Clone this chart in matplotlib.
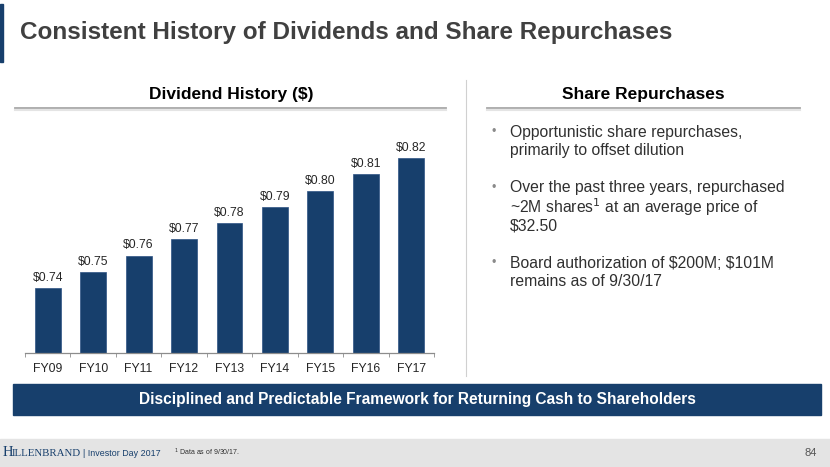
import numpy as np
import matplotlib
matplotlib.use("Agg")
import matplotlib.pyplot as plt
from matplotlib.patches import Rectangle
from matplotlib.lines import Line2D

plt.rcParams['font.family'] = ['Liberation Sans', 'DejaVu Sans']

# Data
years = ['FY09', 'FY10', 'FY11', 'FY12', 'FY13', 'FY14', 'FY15', 'FY16', 'FY17']
dividends = [0.74, 0.75, 0.76, 0.77, 0.78, 0.79, 0.80, 0.81, 0.82]

bullets = [
    ["Opportunistic share repurchases,", "primarily to offset dilution"],
    ["Over the past three years, repurchased", "~2M shares$^1$ at an average price of", "$32.50"],
    ["Board authorization of \\$200M; \\$101M", "remains as of 9/30/17"],
]

NAVY = '#173f6c'
DARK = '#404040'
W, H = 830, 467

fig = plt.figure(figsize=(W / 100, H / 100), dpi=100)


def px(x, y):
    return x / W, 1 - y / H


def ftext(x, y, s, **kw):
    fig.text(*px(x, y), s, **kw)


# left accent bar and title
fig.patches.append(Rectangle(px(0, 62), 3 / W, 58 / H, transform=fig.transFigure,
                             color=NAVY, zorder=2))
ftext(20, 32, "Consistent History of Dividends and Share Repurchases", fontsize=17.45,
      fontweight='bold', color=DARK, va='center', ha='left')

# section headers
ftext(231, 95, "Dividend History ($)", fontsize=12.5, fontweight='bold', color='black',
      ha='center', va='center')
ftext(643, 95, "Share Repurchases", fontsize=12.5, fontweight='bold', color='black',
      ha='center', va='center')
for x0, x1 in [(15, 446), (487, 800)]:
    fig.lines.append(Line2D([x0 / W, x1 / W], [1 - 108 / H] * 2, transform=fig.transFigure,
                            color='#a8a8a8', lw=1.3))
    fig.lines.append(Line2D([x0 / W, x1 / W], [1 - 110 / H] * 2, transform=fig.transFigure,
                            color='#e4e4e4', lw=1.5))

# vertical separator
fig.lines.append(Line2D([466 / W] * 2, [1 - 80 / H, 1 - 376 / H], transform=fig.transFigure,
                        color='#d0d0d0', lw=0.8))

# bar chart
ax = fig.add_axes([25 / W, 114 / H, 409 / W, 211 / H])
x = np.arange(len(years))
ax.bar(x, dividends, width=0.57, color=NAVY, edgecolor='#2d5284', linewidth=0.5)
ax.set_xlim(-0.5, len(years) - 0.5)
ax.set_ylim(0.70, 0.83)
for s in ['top', 'right', 'left']:
    ax.spines[s].set_visible(False)
ax.spines['bottom'].set_color('#8c8c8c')
ax.spines['bottom'].set_linewidth(0.9)
ax.set_yticks([])
ax.set_xticks(x)
ax.set_xticklabels(years, fontsize=8.8, color='#262626')
ax.tick_params(axis='x', which='major', length=0, pad=7)
ax.set_xticks(np.arange(-0.5, len(years)), minor=True)
ax.tick_params(axis='x', which='minor', length=3, color='#8c8c8c', direction='out')
for xi, v in zip(x, dividends):
    ax.annotate(f"${v:.2f}", (xi, v), xytext=(0, 3), textcoords='offset points',
                ha='center', va='bottom', fontsize=8.7, color='#262626')

# bullets
y = 132
for lines in bullets:
    ftext(494, y, "•", fontsize=9, color='#8a8a8a', ha='center', va='center')
    for ln in lines:
        ftext(510, y, ln, fontsize=11.3, color='#303030', ha='left', va='center')
        y += 19
    y += 18

# banner
fig.patches.append(Rectangle(px(13, 415), 808 / W, 31 / H, transform=fig.transFigure,
                             color=NAVY, zorder=1))
ftext(417, 399.5, "Disciplined and Predictable Framework for Returning Cash to Shareholders",
      fontsize=11.2, fontweight='bold', color='white', ha='center', va='center', zorder=3)

# footer
fig.patches.append(Rectangle(px(0, 467), 1, 28 / H, transform=fig.transFigure,
                             color='#e4e4e4', zorder=0))
ftext(3, 456, "H", fontsize=10.5, color=NAVY, family='Liberation Serif', ha='left', va='baseline')
ftext(12, 456, "ILLENBRAND", fontsize=7.8, color=NAVY, family='Liberation Serif', ha='left',
      va='baseline')
ftext(83, 456, "| Investor Day 2017", fontsize=6.4, color=NAVY, ha='left', va='baseline')
ftext(174, 455, "$^1$ Data as of 9/30/17.", fontsize=5, color='#303030', ha='left', va='baseline')
ftext(817, 456, "84", fontsize=8, color='#555555', ha='right', va='baseline')

fig.savefig('out.png', dpi=100)
